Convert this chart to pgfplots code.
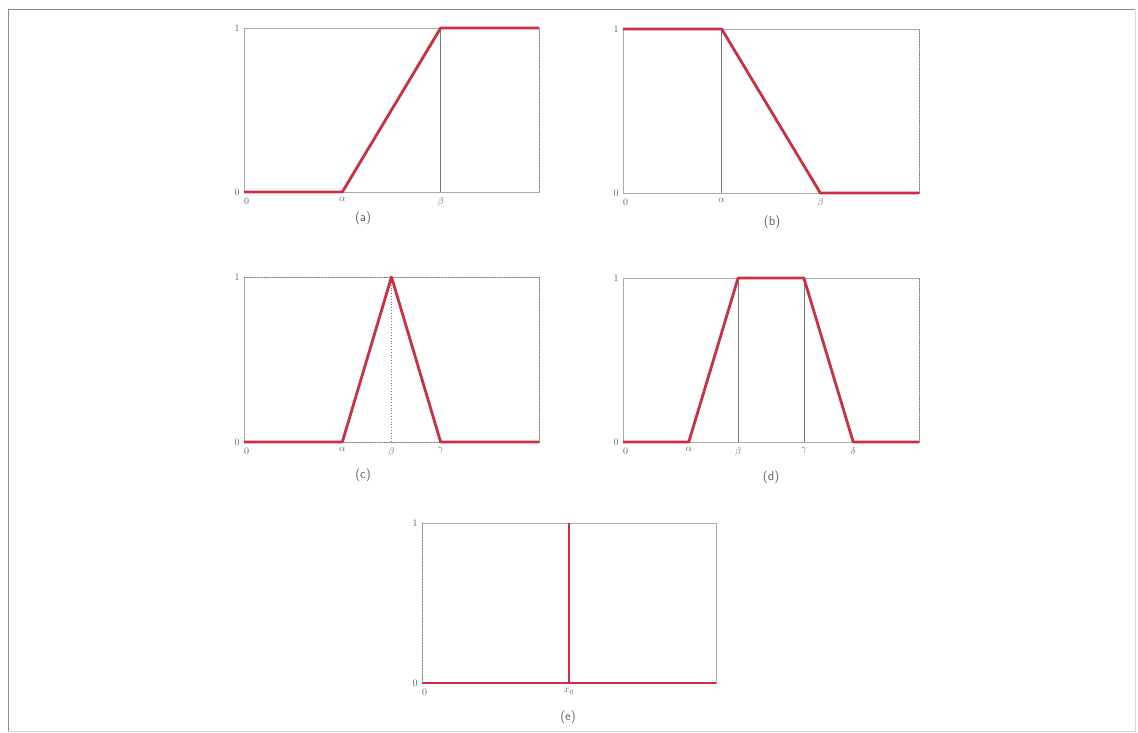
\documentclass[border=0pt]{standalone}
\usepackage{pgfplots}
\pgfplotsset{compat=1.18}

\definecolor{mfred}{RGB}{204,48,64}
\definecolor{boxgray}{RGB}{170,170,170}
\definecolor{guidegray}{RGB}{120,120,120}
\definecolor{labelgray}{RGB}{95,95,95}

\pgfplotsset{
  mf/.style={
    scale only axis,
    anchor=south west,
    clip=false,
    ymin=0, ymax=1,
    ytick={0,1},
    axis line style={draw=boxgray, line width=0.6bp},
    major tick length=0pt,
    tick style={draw=none},
    tick label style={font=\fontsize{10}{11}\selectfont, text=labelgray},
    yticklabel style={xshift=-1bp},
    xticklabel style={yshift=-2bp},
  },
}
\tikzset{
  member/.style={mfred, line width=2.8bp, line join=round},
  guide/.style={guidegray, line width=0.6bp},
  dotguide/.style={guidegray, line width=0.8bp, dotted},
  caption/.style={font=\sffamily\fontsize{13}{15}\selectfont, text=labelgray},
}

\begin{document}
\begin{tikzpicture}
  \useasboundingbox (0bp,0bp) rectangle (1138bp,733bp);
  % outer frame
  \draw[black!45, line width=0.7bp] (8bp,2bp) -- (8bp,724bp) -- (1135bp,724bp);
  \draw[black!15, line width=0.7bp] (8bp,2bp) -- (1135bp,2bp) -- (1135bp,724bp);

  % (a) increasing ramp
  \begin{axis}[mf, at={(244bp,541bp)}, width=295bp, height=164bp,
      xmin=0, xmax=3, xtick={0,1,2},
      xticklabels={\makebox[0pt][l]{0}, $\alpha$, $\beta$}]
    \addplot[guide] coordinates {(2,0) (2,1)};
    \addplot[dotguide] coordinates {(3,0) (3,1)};
    \addplot[member] coordinates {(0,0) (1,0) (2,1) (3,1)};
  \end{axis}
  \node[caption] at (363bp,515bp) {(a)};

  % (b) decreasing ramp
  \begin{axis}[mf, at={(623bp,540bp)}, width=296bp, height=164bp,
      xmin=0, xmax=3, xtick={0,1,2},
      xticklabels={\makebox[0pt][l]{0}, $\alpha$, $\beta$}]
    \addplot[guide] coordinates {(1,0) (1,1)};
    \addplot[dotguide] coordinates {(3,0) (3,1)};
    \addplot[member] coordinates {(0,1) (1,1) (2,0) (3,0)};
  \end{axis}
  \node[caption] at (772bp,511bp) {(b)};

  % (c) triangular
  \begin{axis}[mf, at={(244bp,291bp)}, width=295bp, height=165bp,
      xmin=0, xmax=6, xtick={0,2,3,4},
      xticklabels={\makebox[0pt][l]{0}, $\alpha$, $\beta$, $\gamma$}]
    \addplot[dotguide] coordinates {(0,1) (6,1)};
    \addplot[dotguide] coordinates {(0,0) (6,0)};
    \addplot[dotguide] coordinates {(6,0) (6,1)};
    \addplot[dotguide] coordinates {(3,0) (3,1)};
    \addplot[member] coordinates {(0,0) (2,0) (3,1) (4,0) (6,0)};
  \end{axis}
  \node[caption] at (363bp,258bp) {(c)};

  % (d) trapezoidal
  \begin{axis}[mf, at={(623bp,291bp)}, width=296bp, height=164bp,
      xmin=0, xmax=9, xtick={0,2,3.5,5.5,7},
      xticklabels={\makebox[0pt][l]{0}, $\alpha$, $\beta$, $\gamma$, $\delta$}]
    \addplot[guide] coordinates {(3.5,0) (3.5,1)};
    \addplot[guide] coordinates {(5.5,0) (5.5,1)};
    \addplot[dotguide] coordinates {(9,0) (9,1)};
    \addplot[member] coordinates {(0,0) (2,0) (3.5,1) (5.5,1) (7,0) (9,0)};
  \end{axis}
  \node[caption] at (771bp,256bp) {(d)};

  % (e) singleton
  \begin{axis}[mf, at={(422bp,50bp)}, width=294bp, height=160bp,
      xmin=0, xmax=2, xtick={0,1},
      xticklabels={\makebox[0pt][l]{0}, $x_0$}]
    \addplot[dotguide] coordinates {(0,0) (0,1)};
    \addplot[member] coordinates {(0,0) (2,0)};
    \addplot[member] coordinates {(1,0) (1,1)};
  \end{axis}
  \node[caption] at (568bp,16bp) {(e)};
\end{tikzpicture}
\end{document}
